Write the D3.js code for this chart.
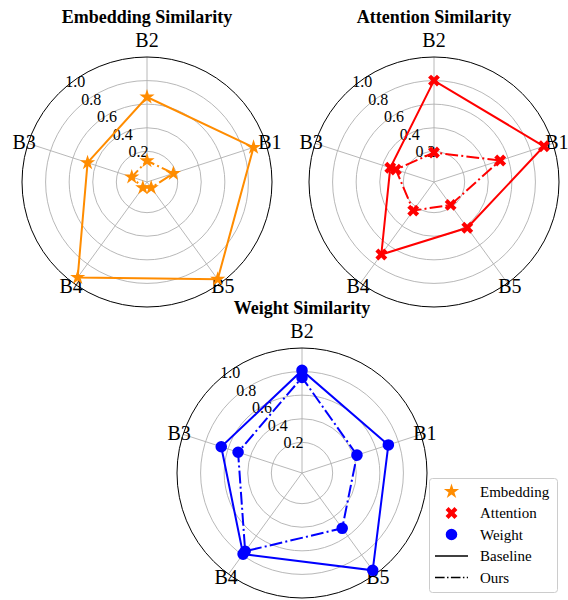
<!DOCTYPE html>
<html>
<head>
<meta charset="utf-8">
<script src="https://cdn.jsdelivr.net/npm/d3@7/dist/d3.min.js"></script>
<style>
  html, body { margin: 0; padding: 0; background: #fff; }
  svg { display: block; }
</style>
</head>
<body>
<svg id="chart" width="568" height="600" font-family="'Liberation Serif', 'Times New Roman', Times, serif"></svg>
<script>
// Block names around each radar, counter-clockwise from the first spoke
const blocks = ["B1", "B2", "B3", "B4", "B5"];
const radialTicks = [0.2, 0.4, 0.6, 0.8, 1.0];

// Similarity per block: baseline vs. ours
const embeddingBaseline = [0.89, 0.66, 0.47, 0.94, 0.96];
const embeddingOurs     = [0.175, 0.12, 0.076, 0.0, 0.0];
const attentionBaseline = [0.92, 0.80, 0.33, 0.70, 0.42];
const attentionOurs     = [0.53, 0.19, 0.28, 0.24, 0.18];
const weightBaseline    = [0.71, 0.81, 0.66, 0.79, 0.96];
const weightOurs        = [0.43, 0.75, 0.51, 0.76, 0.52];

const legendLabels = ["Embedding", "Attention", "Weight"];
const styleLabels  = ["Baseline", "Ours"];

const FONT = "'Liberation Serif', 'Times New Roman', Times, serif";
const svg = d3.select("#chart");
const R = 125;
const dashDot = "12.8,3.2,2,3.2";

// radial value -> pixel radius (the axis starts slightly below zero)
const rScale = d3.scaleLinear().domain([-0.06, 1.0]).range([0, R]);
// spoke angle, counter-clockwise from +x, first spoke at 18 degrees
const mathAngle = i => (18 + 72 * i) * Math.PI / 180;
// d3 radial angle: clockwise from 12 o'clock
const d3Angle = i => Math.PI / 2 - mathAngle(i);

const markerPath = {
  star: d3.symbol().type(d3.symbolStar).size(72)(),
  x: d3.symbol().type(d3.symbolCross).size(88)(),
  circle: d3.symbol().type(d3.symbolCircle).size(105)()
};
const markerRotate = { star: 0, x: 45, circle: 0 };

const panels = [
  { title: "Embedding Similarity", cx: 147, cy: 182, color: "#ff8c00", marker: "star",
    baseline: embeddingBaseline, ours: embeddingOurs },
  { title: "Attention Similarity", cx: 434, cy: 182, color: "#ff0000", marker: "x",
    baseline: attentionBaseline, ours: attentionOurs },
  { title: "Weight Similarity", cx: 302, cy: 473, color: "#0000ff", marker: "circle",
    baseline: weightBaseline, ours: weightOurs }
];

function labelPos(i) {
  const a = mathAngle(i);
  const dist = 129 + 13 * Math.pow(Math.max(0, Math.sin(a)), 4);
  return [dist * Math.cos(a), -dist * Math.sin(a)];
}

function drawPanel(p) {
  const g = svg.append("g").attr("transform", `translate(${p.cx},${p.cy})`);

  // grid circles
  g.selectAll("circle.grid").data(radialTicks.slice(0, -1)).join("circle")
    .attr("class", "grid")
    .attr("r", d => rScale(d))
    .attr("fill", "none").attr("stroke", "#b0b0b0").attr("stroke-width", 0.9);

  // spokes
  g.selectAll("line.spoke").data(blocks).join("line")
    .attr("x1", 0).attr("y1", 0)
    .attr("x2", (d, i) => R * Math.cos(mathAngle(i)))
    .attr("y2", (d, i) => -R * Math.sin(mathAngle(i)))
    .attr("stroke", "#b0b0b0").attr("stroke-width", 0.9);

  // outer spine
  g.append("circle").attr("r", rScale(1.0))
    .attr("fill", "none").attr("stroke", "#000").attr("stroke-width", 1);

  // radial tick labels
  const la = 132 * Math.PI / 180;
  g.selectAll("text.rtick").data(radialTicks).join("text")
    .attr("x", d => rScale(d) * Math.cos(la) + 2)
    .attr("y", d => -rScale(d) * Math.sin(la) - 2)
    .attr("font-family", FONT)
    .attr("font-size", 16)
    .text(d => d.toFixed(1));

  // spoke labels
  g.selectAll("text.blk").data(blocks).join("text")
    .attr("x", (d, i) => labelPos(i)[0])
    .attr("y", (d, i) => labelPos(i)[1])
    .attr("text-anchor", "middle")
    .attr("dominant-baseline", "central")
    .attr("font-family", FONT)
    .attr("font-size", 20)
    .text(d => d);

  const line = d3.lineRadial()
    .angle((d, i) => d3Angle(i))
    .radius(d => rScale(d))
    .curve(d3.curveLinearClosed);

  [["baseline", null], ["ours", dashDot]].forEach(([key, dash]) => {
    g.append("path")
      .attr("d", line(p[key]))
      .attr("fill", "none")
      .attr("stroke", p.color)
      .attr("stroke-width", 2)
      .attr("stroke-dasharray", dash);
    g.selectAll(null).data(p[key]).join("path")
      .attr("d", markerPath[p.marker])
      .attr("transform", (d, i) => {
        const a = mathAngle(i);
        return `translate(${rScale(d) * Math.cos(a)},${-rScale(d) * Math.sin(a)}) rotate(${markerRotate[p.marker]})`;
      })
      .attr("fill", p.color);
  });

  // title
  svg.append("text")
    .attr("x", p.cx).attr("y", p.cy - 159)
    .attr("text-anchor", "middle")
    .attr("font-family", FONT)
    .attr("font-size", 18).attr("font-weight", "bold")
    .text(p.title);
}

panels.forEach(drawPanel);

// legend
const lg = svg.append("g");
lg.append("rect")
  .attr("x", 429.5).attr("y", 478.5).attr("width", 128).attr("height", 114)
  .attr("rx", 3).attr("fill", "#fff").attr("fill-opacity", 0.8)
  .attr("stroke", "#cccccc").attr("stroke-width", 1);

const rowY = d3.scalePoint().domain(d3.range(5)).range([491.5, 577.5]);
panels.forEach((p, i) => {
  lg.append("path")
    .attr("d", markerPath[p.marker])
    .attr("transform", `translate(451.5,${rowY(i)}) rotate(${markerRotate[p.marker]})`)
    .attr("fill", p.color);
  lg.append("text")
    .attr("x", 480).attr("y", rowY(i))
    .attr("dominant-baseline", "central")
    .attr("font-family", FONT)
    .attr("font-size", 15)
    .text(legendLabels[i]);
});
styleLabels.forEach((s, j) => {
  const y = rowY(3 + j);
  lg.append("line")
    .attr("x1", 435).attr("x2", 468).attr("y1", y).attr("y2", y)
    .attr("stroke", "#000").attr("stroke-width", 1.5)
    .attr("stroke-dasharray", j === 1 ? "9.6,2.4,1.5,2.4" : null);
  lg.append("text")
    .attr("x", 480).attr("y", y)
    .attr("dominant-baseline", "central")
    .attr("font-family", FONT)
    .attr("font-size", 15)
    .text(s);
});
</script>
</body>
</html>
